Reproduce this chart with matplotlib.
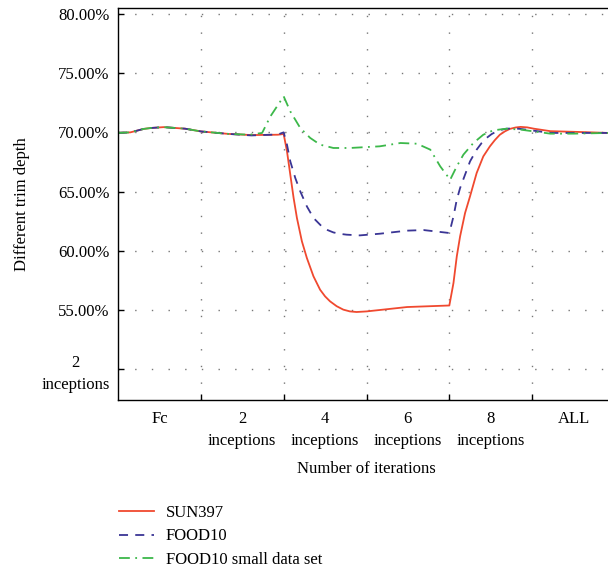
import matplotlib
matplotlib.use('Agg')
import matplotlib.pyplot as plt
from matplotlib.ticker import FixedLocator

# ─── Data ────────────────────────────────────────────────────────────────────
# Category slots: Fc, 2, 4, 6, 8 inceptions, ALL (centres at 0.5 ... 5.5)
CATEGORIES = ["Fc", "2\ninceptions", "4\ninceptions", "6\ninceptions", "8\ninceptions", "ALL"]
CAT_POS = [0.5, 1.5, 2.5, 3.5, 4.5, 5.5]

YTICKS = [50, 55, 60, 65, 70, 75, 80]
YTICK_LABELS = ["2\ninceptions", "55.00%", "60.00%", "65.00%", "70.00%", "75.00%", "80.00%"]

sun_x = [0, 0.15, 0.31, 0.40, 0.55, 0.81, 1.0, 1.33, 1.61, 1.93, 2.0,
         2.04, 2.08, 2.12, 2.16, 2.22, 2.28, 2.36, 2.44, 2.50, 2.56, 2.64, 2.72, 2.80, 2.88, 3.0,
         3.16, 3.49, 4.0,
         4.05, 4.09, 4.13, 4.19, 4.25, 4.33, 4.41, 4.49, 4.55, 4.61, 4.67, 4.73, 4.80, 4.86,
         4.94, 5.02, 5.22, 5.58, 5.92]
sun_y = [69.95, 70.0, 70.29, 70.37, 70.44, 70.31, 70.08, 69.87, 69.77, 69.80, 69.86,
         68.4, 66.43, 64.46, 62.77, 60.8, 59.39, 57.84, 56.71, 56.15, 55.73, 55.32, 55.03, 54.88, 54.83, 54.88,
         55.0, 55.25, 55.38,
         57.28, 59.53, 61.22, 63.19, 64.6, 66.57, 67.97, 68.82, 69.35, 69.8, 70.08, 70.29, 70.41, 70.46,
         70.42, 70.31, 70.1, 70.03, 69.95]

food_x = [0, 0.15, 0.31, 0.40, 0.55, 0.81, 1.0, 1.33, 1.61, 1.93, 2.0,
          2.04, 2.08, 2.14, 2.2, 2.28, 2.36, 2.46, 2.53, 2.6, 2.68, 2.76, 2.92, 3.16, 3.49, 3.69, 4.0,
          4.05, 4.09, 4.13, 4.19, 4.25, 4.33, 4.39, 4.45, 4.51, 4.57, 4.63, 4.69, 4.78, 4.86,
          5.02, 5.22, 5.58, 5.92]
food_y = [69.95, 70.0, 70.29, 70.37, 70.44, 70.31, 70.08, 69.87, 69.74, 69.82, 70.0,
          68.96, 67.55, 66.15, 65.02, 63.75, 62.77, 62.06, 61.75, 61.55, 61.43, 61.36, 61.3, 61.44,
          61.7, 61.75, 61.5,
          62.9, 64.32, 65.3, 66.43, 67.55, 68.54, 69.1, 69.53, 69.85, 70.08, 70.22, 70.31, 70.33, 70.29,
          70.14, 69.95, 69.95, 69.95]

small_x = [0, 0.15, 0.31, 0.40, 0.55, 0.81, 1.0, 1.33, 1.59, 1.74, 1.84, 2.0,
           2.08, 2.2, 2.32, 2.44, 2.6, 2.8, 3.16, 3.41, 3.61, 3.77, 3.89, 4.01,
           4.09, 4.17, 4.29, 4.41, 4.53, 4.69, 4.86, 5.02, 5.22, 5.5, 5.92]
small_y = [69.95, 70.0, 70.29, 70.37, 70.44, 70.31, 70.08, 69.87, 69.8, 69.95, 71.35, 73.04,
           71.77, 70.37, 69.53, 68.96, 68.68, 68.68, 68.82, 69.1, 69.04, 68.54, 67.13, 66.0,
           67.13, 68.12, 69.1, 69.8, 70.17, 70.31, 70.23, 70.08, 69.89, 69.89, 69.95]

# ─── Style ───────────────────────────────────────────────────────────────────
plt.rcParams.update({
    "font.family": "Liberation Serif",
    "font.size": 12,
})

fig = plt.figure(figsize=(6.08, 5.69), dpi=100)
ax = fig.add_axes([118 / 608, 1 - 400 / 569, 497 / 608, 392 / 569])

ax.plot(sun_x, sun_y, color="#F0492F", lw=1.3, label="SUN397")
ax.plot(food_x, food_y, color="#3A3595", lw=1.3, ls=(0, (5, 4)), label="FOOD10")
ax.plot(small_x, small_y, color="#3CB84A", lw=1.3, ls=(0, (6, 3, 1, 3)),
        label="FOOD10 small data set")

ax.set_xlim(0, 6)
ax.set_ylim(47.4, 80.5)

# major ticks sit on the grid, category names sit between them
ax.xaxis.set_major_locator(FixedLocator([1, 2, 3, 4, 5]))
ax.set_xticklabels([])
ax.xaxis.set_minor_locator(FixedLocator(CAT_POS))
ax.set_xticklabels(CATEGORIES, minor=True, linespacing=1.45)
ax.tick_params(axis="x", which="minor", length=0, pad=8)
ax.tick_params(axis="x", which="major", direction="in", length=4, width=1)

ax.set_yticks(YTICKS)
ax.set_yticklabels(YTICK_LABELS, multialignment="center", linespacing=1.5)
ax.tick_params(axis="y", direction="in", length=4, width=1, pad=6)

ax.grid(True, which="major", color="#777777", lw=1.0, ls=(0, (1, 11)))

for side in ("left", "bottom", "top"):
    ax.spines[side].set_linewidth(1.0)
ax.spines["right"].set_visible(False)

ax.set_xlabel("Number of iterations", labelpad=9)
ax.set_ylabel("Different trim depth", labelpad=8)

fig.legend(loc="upper left", bbox_to_anchor=(104 / 608, 1 - 490 / 569), frameon=False,
           handlelength=2.1, handletextpad=0.7, labelspacing=0.45, fontsize=12)

plt.savefig("out.png", dpi=100)
plt.close()
